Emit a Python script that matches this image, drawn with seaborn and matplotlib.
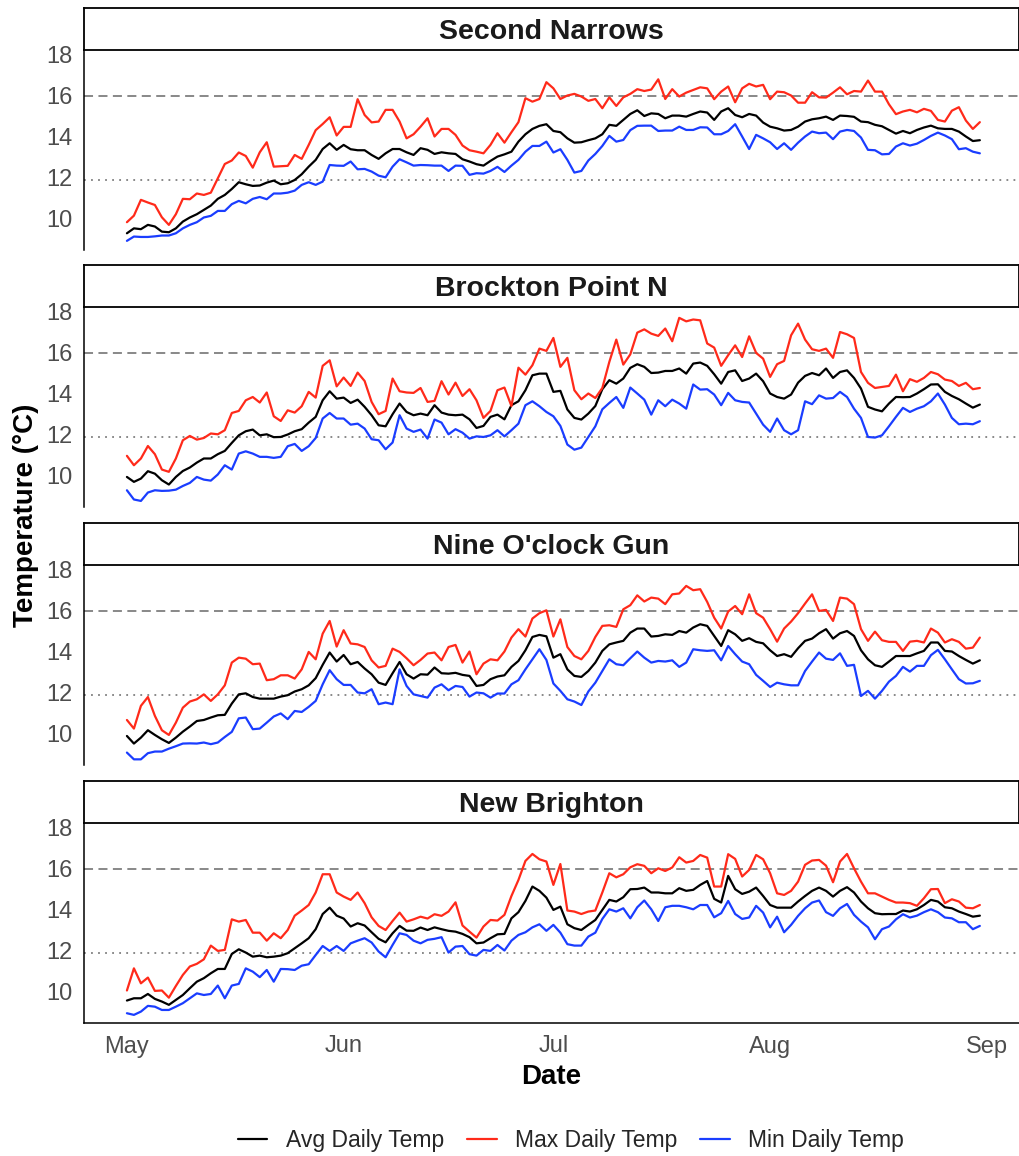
import numpy as np
import pandas as pd
import matplotlib
matplotlib.use("Agg")
import matplotlib.pyplot as plt
from matplotlib.lines import Line2D
import seaborn as sns

# ---------------- data ----------------
start_date = "2023-05-01"
stations = ["Second Narrows", "Brockton Point N", "Nine O'clock Gun", "New Brighton"]
series_names = ["Avg Daily Temp", "Max Daily Temp", "Min Daily Temp"]
month_ticks = ["2023-05-01", "2023-06-01", "2023-07-01", "2023-08-01", "2023-09-01"]
month_labels = ["May", "Jun", "Jul", "Aug", "Sep"]
ref_dashed = 16.0
ref_dotted = 11.9

sn_avg = [9.30, 9.54, 9.50, 9.71, 9.63, 9.38, 9.35, 9.54, 9.87, 10.07, 10.23, 10.44, 10.65, 10.98, 11.17, 11.46, 11.79, 11.69, 11.61, 11.63, 11.77, 11.87, 11.69, 11.74, 11.90, 12.18, 12.55, 12.88, 13.41, 13.69, 13.37, 13.61, 13.40, 13.35, 13.35, 13.12, 12.93, 13.20, 13.41, 13.41, 13.25,
          13.12, 13.45, 13.37, 13.17, 13.25, 13.20, 13.17, 12.91, 12.80, 12.67, 12.60, 12.83, 13.04, 13.15, 13.28, 13.77, 14.13, 14.39, 14.54, 14.62, 14.29, 14.23, 13.93, 13.72, 13.74, 13.84, 13.93, 14.13, 14.59, 14.54, 14.83, 15.12, 15.30, 15.02, 15.15, 15.12, 14.91, 15.04, 15.04,
          14.99, 15.12, 15.24, 15.19, 14.83, 15.24, 15.40, 15.07, 14.96, 15.12, 15.04, 14.70, 14.50, 14.42, 14.31, 14.34, 14.50, 14.75, 14.86, 14.91, 14.99, 14.83, 15.04, 15.02, 14.98, 14.75, 14.72, 14.59, 14.52, 14.34, 14.16, 14.29, 14.18, 14.34, 14.46, 14.55, 14.42, 14.39, 14.39, 14.26, 14.02, 13.80, 13.84]
sn_max = [9.84, 10.16, 10.93, 10.80, 10.68, 10.08, 9.71, 10.23, 10.98, 10.96, 11.24, 11.17, 11.28, 11.98, 12.68, 12.85, 13.24, 13.07, 12.50, 13.25, 13.74, 12.55, 12.57, 12.59, 13.12, 12.93, 13.61, 14.33, 14.63, 14.96, 14.07, 14.49, 14.49, 15.84, 15.07, 14.71, 14.75, 15.32, 15.32, 14.75, 13.93,
          14.13, 14.50, 14.91, 14.02, 14.39, 14.39, 14.10, 13.58, 13.35, 13.28, 13.20, 13.61, 14.18, 13.72, 14.23, 14.72, 15.89, 15.72, 15.85, 16.67, 16.37, 15.85, 16.02, 16.10, 15.97, 15.76, 15.85, 15.40, 15.93, 15.51, 15.93, 16.10, 16.33, 16.24, 16.31, 16.81, 15.85, 16.33, 15.97,
          16.16, 16.29, 16.42, 16.37, 15.84, 16.21, 16.46, 15.69, 16.37, 16.59, 16.46, 16.54, 15.84, 16.21, 16.18, 16.02, 15.67, 15.67, 16.18, 15.93, 15.92, 16.16, 16.42, 16.08, 16.24, 16.21, 16.75, 16.21, 16.21, 15.59, 15.11, 15.24, 15.32, 15.20, 15.37, 15.27, 14.83, 14.75, 15.28, 15.45, 14.80, 14.39, 14.72]
sn_min = [8.93, 9.14, 9.12, 9.12, 9.15, 9.19, 9.19, 9.30, 9.54, 9.71, 9.84, 10.07, 10.15, 10.39, 10.39, 10.72, 10.88, 10.76, 10.98, 11.07, 10.96, 11.24, 11.24, 11.28, 11.38, 11.66, 11.79, 11.66, 11.82, 12.63, 12.60, 12.59, 12.80, 12.42, 12.44, 12.31, 12.11, 12.03, 12.55, 12.91, 12.76,
          12.60, 12.63, 12.62, 12.60, 12.60, 12.34, 12.60, 12.59, 12.15, 12.23, 12.21, 12.34, 12.54, 12.29, 12.60, 12.88, 13.28, 13.56, 13.56, 13.77, 13.24, 13.40, 12.88, 12.26, 12.34, 12.85, 13.17, 13.56, 14.05, 13.77, 13.85, 14.33, 14.54, 14.55, 14.55, 14.29, 14.31, 14.31, 14.50,
          14.34, 14.34, 14.47, 14.46, 14.13, 14.13, 14.29, 14.62, 14.02, 13.41, 14.10, 13.93, 13.74, 13.41, 13.69, 13.37, 13.72, 14.02, 14.26, 14.18, 14.21, 13.89, 14.26, 14.34, 14.29, 13.97, 13.37, 13.35, 13.15, 13.17, 13.53, 13.69, 13.58, 13.67, 13.85, 14.05, 14.21, 14.07, 13.89, 13.40, 13.45, 13.28, 13.20]

bp_avg = [9.95, 9.71, 9.87, 10.23, 10.11, 9.79, 9.58, 9.95, 10.24, 10.41, 10.65, 10.85, 10.85, 11.06, 11.22, 11.61, 11.98, 12.18, 12.26, 11.98, 12.03, 11.89, 11.90, 12.02, 12.18, 12.28, 12.60, 12.88, 13.69, 14.13, 13.77, 13.82, 13.56, 13.72, 13.37, 12.96, 12.47, 12.42, 13.01, 13.53, 13.12,
          12.96, 13.04, 12.96, 13.45, 13.09, 12.99, 12.96, 12.99, 12.76, 12.34, 12.44, 12.88, 12.99, 12.76, 13.45, 13.64, 14.18, 14.91, 14.99, 14.99, 14.10, 14.15, 13.24, 12.83, 12.75, 13.04, 13.41, 14.23, 14.67, 14.50, 14.75, 15.27, 15.45, 15.32, 15.02, 15.04, 15.12, 15.12, 15.24,
          14.99, 15.48, 15.53, 15.37, 14.96, 14.50, 15.07, 15.15, 14.63, 14.75, 14.99, 14.62, 14.02, 13.85, 13.77, 13.97, 14.55, 14.88, 15.02, 14.91, 15.24, 14.78, 15.07, 15.15, 14.78, 14.26, 13.37, 13.24, 13.15, 13.53, 13.85, 13.84, 13.85, 14.02, 14.23, 14.46, 14.47, 14.10, 13.90, 13.74, 13.53, 13.33, 13.48]
bp_max = [10.98, 10.52, 10.85, 11.46, 11.06, 10.31, 10.20, 10.85, 11.74, 11.95, 11.77, 11.85, 12.07, 12.03, 12.23, 13.07, 13.17, 13.69, 13.85, 13.58, 14.07, 12.91, 12.68, 13.20, 13.09, 13.40, 14.10, 13.82, 15.37, 15.64, 14.37, 14.80, 14.39, 15.04, 14.63, 13.61, 13.01, 13.17, 14.75, 14.13, 14.07,
          14.05, 14.29, 13.61, 13.66, 14.62, 13.97, 14.55, 13.90, 14.23, 13.69, 12.83, 13.17, 14.18, 14.31, 13.41, 15.28, 14.94, 15.40, 16.21, 16.10, 16.73, 15.32, 15.76, 14.18, 13.74, 14.02, 13.80, 14.29, 15.56, 16.65, 15.43, 15.93, 16.99, 17.15, 16.94, 16.83, 17.19, 16.57, 17.71,
          17.54, 17.63, 17.59, 16.46, 16.26, 15.37, 15.89, 16.37, 15.80, 16.81, 16.00, 15.72, 14.83, 15.45, 15.61, 16.86, 17.43, 16.65, 16.18, 16.10, 16.21, 15.76, 17.02, 16.91, 16.73, 15.07, 14.54, 14.29, 14.34, 14.39, 14.94, 14.13, 14.72, 14.59, 14.78, 15.07, 14.96, 14.70, 14.63, 14.39, 14.54, 14.23, 14.29]
bp_min = [9.30, 8.85, 8.78, 9.19, 9.30, 9.27, 9.28, 9.33, 9.51, 9.66, 9.95, 9.82, 9.77, 10.07, 10.52, 10.31, 11.09, 11.20, 11.09, 10.93, 10.93, 10.88, 10.93, 11.45, 11.56, 11.22, 11.45, 11.85, 12.80, 13.07, 12.80, 12.80, 12.50, 12.55, 12.31, 11.79, 11.74, 11.30, 11.63, 12.96, 12.31,
          12.15, 12.26, 11.82, 12.75, 12.60, 12.03, 12.28, 12.11, 11.82, 11.93, 11.90, 11.98, 12.23, 11.93, 12.23, 12.55, 13.45, 13.64, 13.40, 13.12, 12.91, 12.44, 11.53, 11.28, 11.38, 11.90, 12.42, 13.25, 13.56, 13.85, 13.32, 14.31, 14.02, 13.72, 12.99, 13.69, 13.40, 13.72, 13.53,
          13.28, 14.46, 14.21, 14.23, 13.97, 13.45, 14.05, 13.69, 13.61, 13.58, 13.04, 12.50, 12.15, 12.80, 12.23, 12.03, 12.23, 13.64, 13.50, 13.93, 13.77, 13.80, 14.10, 13.85, 13.28, 12.83, 11.90, 11.87, 11.98, 12.42, 12.88, 13.32, 13.12, 13.28, 13.40, 13.64, 14.02, 13.48, 12.83, 12.52, 12.55, 12.52, 12.67]

ng_avg = [9.90, 9.53, 9.82, 10.18, 9.95, 9.74, 9.56, 9.82, 10.11, 10.36, 10.63, 10.68, 10.80, 10.91, 10.93, 11.48, 11.93, 11.98, 11.80, 11.72, 11.72, 11.72, 11.82, 11.89, 12.07, 12.18, 12.37, 12.72, 13.37, 13.97, 13.53, 13.85, 13.40, 13.51, 13.19, 12.91, 12.50, 12.39, 12.96, 13.51, 12.91,
          12.70, 12.91, 12.89, 13.24, 12.96, 12.94, 12.98, 12.88, 12.83, 12.34, 12.39, 12.67, 12.80, 12.86, 13.27, 13.56, 14.08, 14.73, 14.83, 14.76, 13.72, 13.89, 13.15, 12.83, 12.78, 13.07, 13.48, 14.05, 14.37, 14.46, 14.54, 14.94, 15.14, 15.14, 14.75, 14.78, 14.86, 14.83, 15.02,
          14.94, 15.19, 15.35, 15.27, 14.78, 14.29, 15.06, 14.86, 14.54, 14.67, 14.49, 14.42, 14.08, 13.80, 13.89, 13.76, 14.18, 14.54, 14.65, 14.91, 15.11, 14.65, 14.91, 15.02, 14.78, 14.08, 13.64, 13.35, 13.27, 13.53, 13.80, 13.80, 13.80, 13.93, 14.05, 14.46, 14.46, 14.05, 14.02, 13.80, 13.61, 13.43, 13.59]
ng_max = [10.68, 10.26, 11.37, 11.80, 10.88, 10.18, 9.95, 10.55, 11.28, 11.58, 11.69, 11.93, 11.61, 11.93, 12.37, 13.48, 13.72, 13.67, 13.40, 13.43, 12.62, 12.67, 12.86, 12.86, 12.70, 13.15, 14.00, 13.64, 14.89, 15.51, 14.26, 15.06, 14.41, 14.37, 14.24, 13.59, 13.24, 13.32, 14.16, 14.00, 13.69,
          13.35, 13.61, 13.92, 13.97, 13.59, 14.24, 14.34, 13.48, 14.02, 12.91, 13.43, 13.64, 13.59, 14.02, 14.70, 15.11, 14.75, 15.63, 15.89, 16.03, 14.75, 15.59, 14.24, 13.80, 13.64, 14.05, 14.73, 15.27, 15.30, 15.22, 16.08, 16.28, 16.76, 16.46, 16.65, 16.60, 16.33, 16.81, 16.85,
          17.22, 17.01, 17.06, 16.44, 15.67, 15.14, 15.97, 16.24, 15.84, 16.81, 15.89, 15.67, 15.11, 14.50, 15.14, 15.48, 15.89, 16.36, 16.81, 16.00, 16.05, 15.51, 16.65, 16.60, 16.33, 15.11, 14.54, 14.99, 14.57, 14.49, 14.49, 14.05, 14.50, 14.54, 14.46, 15.14, 14.94, 14.46, 14.62, 14.49, 14.16, 14.21, 14.70]
ng_min = [9.09, 8.76, 8.76, 9.06, 9.14, 9.14, 9.28, 9.40, 9.53, 9.54, 9.53, 9.58, 9.50, 9.58, 9.85, 10.10, 10.76, 10.80, 10.23, 10.26, 10.55, 10.85, 11.00, 10.72, 11.12, 11.07, 11.32, 11.61, 12.42, 13.11, 12.67, 12.39, 12.39, 12.02, 11.98, 12.18, 11.45, 11.53, 11.45, 13.15, 12.34,
          11.93, 11.85, 11.77, 12.26, 12.42, 12.13, 12.34, 12.29, 11.82, 12.02, 11.98, 11.77, 11.97, 11.97, 12.42, 12.62, 13.15, 13.64, 14.13, 13.61, 12.46, 12.10, 11.69, 11.58, 11.41, 12.07, 12.50, 13.07, 13.64, 13.40, 13.35, 13.69, 14.02, 13.72, 13.48, 13.56, 13.53, 13.59, 13.27,
          13.48, 14.13, 14.08, 14.05, 14.08, 13.59, 14.29, 13.89, 13.53, 13.40, 12.88, 12.59, 12.29, 12.50, 12.42, 12.37, 12.37, 13.07, 13.53, 13.97, 13.67, 13.61, 13.93, 13.32, 13.37, 11.85, 12.10, 11.72, 12.10, 12.55, 12.83, 13.27, 13.04, 13.32, 13.32, 13.84, 14.10, 13.64, 13.15, 12.67, 12.46, 12.47, 12.59]

nb_avg = [9.58, 9.69, 9.69, 9.90, 9.66, 9.53, 9.37, 9.61, 9.85, 10.18, 10.50, 10.67, 10.91, 11.12, 11.12, 11.85, 12.08, 11.92, 11.72, 11.77, 11.69, 11.72, 11.77, 11.89, 12.13, 12.37, 12.62, 13.06, 13.80, 14.11, 13.72, 13.58, 13.19, 13.35, 13.24, 12.91, 12.59, 12.42, 12.86, 13.22, 12.99,
          12.98, 13.14, 13.02, 13.15, 13.06, 12.98, 12.94, 12.83, 12.67, 12.37, 12.41, 12.62, 12.81, 12.83, 13.59, 13.89, 14.44, 15.14, 14.93, 14.60, 14.00, 14.16, 13.30, 13.11, 13.02, 13.27, 13.51, 14.00, 14.49, 14.41, 14.62, 15.01, 15.02, 15.09, 14.85, 14.85, 14.81, 14.81, 15.06,
          14.93, 14.98, 15.22, 15.41, 14.54, 14.36, 15.66, 15.01, 14.78, 14.89, 15.09, 14.68, 14.24, 14.11, 14.11, 14.11, 14.41, 14.68, 14.93, 15.09, 14.93, 14.65, 14.93, 15.11, 14.85, 14.41, 14.08, 13.84, 13.79, 13.80, 13.80, 13.97, 13.92, 14.03, 14.24, 14.49, 14.41, 14.13, 14.08, 13.92, 13.80, 13.67, 13.72]
nb_max = [10.07, 11.15, 10.42, 10.70, 10.05, 10.07, 9.72, 10.29, 10.83, 11.24, 11.37, 11.59, 12.26, 12.00, 12.05, 13.54, 13.43, 13.51, 12.89, 12.89, 12.50, 12.86, 12.62, 13.02, 13.72, 13.97, 14.24, 14.85, 15.74, 15.74, 14.85, 14.65, 14.49, 14.85, 14.33, 13.64, 13.22, 13.02, 13.46, 13.87, 13.43,
          13.54, 13.67, 13.58, 13.79, 13.71, 13.92, 14.37, 13.24, 12.94, 12.65, 13.19, 13.51, 13.48, 13.76, 14.68, 15.46, 16.39, 16.73, 16.47, 16.36, 15.22, 16.24, 13.97, 13.92, 13.80, 13.92, 13.97, 14.85, 15.79, 15.59, 15.74, 16.08, 16.23, 16.15, 15.79, 16.03, 15.90, 16.07, 16.57,
          16.31, 16.39, 16.68, 16.55, 15.14, 15.14, 16.72, 16.49, 15.63, 15.95, 16.68, 16.47, 15.79, 14.81, 14.73, 14.93, 15.38, 16.20, 16.41, 16.44, 16.16, 15.35, 16.36, 16.73, 16.03, 15.38, 14.81, 14.81, 14.65, 14.49, 14.36, 14.36, 14.33, 14.20, 14.57, 15.01, 15.02, 14.33, 14.52, 14.41, 14.11, 14.08, 14.24]
nb_min = [8.96, 8.88, 9.04, 9.32, 9.28, 9.12, 9.12, 9.28, 9.45, 9.69, 9.93, 9.85, 9.90, 10.31, 9.69, 10.31, 10.39, 11.15, 10.99, 10.72, 11.07, 10.50, 11.12, 11.11, 11.07, 11.28, 11.35, 11.80, 12.24, 12.00, 12.24, 12.00, 12.37, 12.50, 12.62, 12.41, 11.97, 11.69, 12.29, 12.86, 12.78,
          12.50, 12.37, 12.54, 12.59, 12.67, 11.92, 12.21, 12.24, 11.84, 11.77, 12.05, 12.00, 12.29, 12.02, 12.50, 12.78, 12.91, 13.15, 13.30, 12.98, 13.27, 12.89, 12.33, 12.26, 12.26, 12.70, 12.89, 13.56, 14.03, 13.92, 14.08, 13.59, 14.13, 14.46, 14.03, 13.46, 14.13, 14.20, 14.20,
          14.13, 14.03, 14.24, 14.24, 13.64, 13.84, 14.44, 13.80, 13.56, 13.63, 14.20, 13.87, 13.15, 13.67, 12.91, 13.27, 13.71, 14.08, 14.36, 14.46, 13.89, 13.71, 14.08, 14.29, 13.76, 13.43, 13.15, 12.57, 13.06, 13.19, 13.54, 13.79, 13.63, 13.72, 13.89, 14.03, 13.89, 13.63, 13.59, 13.40, 13.40, 13.06, 13.22]

station_data = {
    "Second Narrows": (sn_avg, sn_max, sn_min),
    "Brockton Point N": (bp_avg, bp_max, bp_min),
    "Nine O'clock Gun": (ng_avg, ng_max, ng_min),
    "New Brighton": (nb_avg, nb_max, nb_min),
}

# ---------------- style ----------------
sns.set_style("white")
plt.rcParams["font.family"] = ["Liberation Sans", "DejaVu Sans"]
colors = {"Avg Daily Temp": "#000000", "Max Daily Temp": "#FF2A1A", "Min Daily Temp": "#1A3DFF"}
tick_gray = "#4D4D4D"

W, H = 1020, 1156
fig = plt.figure(figsize=(W / 100, H / 100), dpi=100)

def frac_rect(left, top, right, bottom):
    return [left / W, 1 - bottom / H, (right - left) / W, (bottom - top) / H]

left_px, right_px = 84, 1019
panel_tops = [50, 307, 565, 823]
panel_h = 200
strip_h = 42

d0 = pd.Timestamp(start_date)
xlim = (d0 - pd.Timedelta(days=6.14), d0 + pd.Timedelta(days=127.6))
ylim = (18.24 - panel_h / 20.5, 18.24)

rows = []
for st in stations:
    for name, vals in zip(series_names, station_data[st]):
        dates = pd.date_range(start_date, periods=len(vals), freq="D")
        rows.append(pd.DataFrame({"station": st, "series": name, "date": dates, "temp": vals}))
df = pd.concat(rows, ignore_index=True)

for i, st in enumerate(stations):
    top = panel_tops[i]
    ax = fig.add_axes(frac_rect(left_px, top, right_px, top + panel_h))
    sub = df[df["station"] == st]
    ax.axhline(ref_dashed, color="#7F7F7F", lw=1.3, ls=(0, (5, 3)), zorder=1)
    ax.axhline(ref_dotted, color="#7F7F7F", lw=1.3, ls=(0, (1, 2.9)), zorder=1)
    sns.lineplot(data=sub, x="date", y="temp", hue="series", hue_order=series_names,
                 palette=colors, linewidth=1.6, ax=ax, legend=False, zorder=3)
    ax.set_xlim(*xlim)
    ax.set_ylim(*ylim)
    ax.set_yticks([10, 12, 14, 16, 18])
    ax.set_yticklabels(["10", "12", "14", "16", "18"])
    ax.tick_params(axis="y", colors=tick_gray, labelsize=17, length=4, width=1.0, pad=4)
    ax.set_xlabel("")
    ax.set_ylabel("")
    for s in ["top", "right"]:
        ax.spines[s].set_visible(False)
    ax.spines["left"].set_color("black")
    ax.spines["left"].set_linewidth(1.1)
    ticks = pd.to_datetime(month_ticks)
    ax.set_xticks(ticks)
    if i < len(stations) - 1:
        ax.spines["bottom"].set_visible(False)
        ax.tick_params(axis="x", bottom=False, labelbottom=False)
    else:
        ax.spines["bottom"].set_color("black")
        ax.spines["bottom"].set_linewidth(1.1)
        ax.set_xticklabels(month_labels)
        ax.tick_params(axis="x", colors=tick_gray, labelsize=17, length=5, width=1.0, pad=4)
    ax.patch.set_alpha(0)

    # strip
    sax = fig.add_axes(frac_rect(left_px, top - strip_h, right_px, top))
    sax.set_xticks([])
    sax.set_yticks([])
    for s in sax.spines.values():
        s.set_visible(True)
        s.set_color("black")
        s.set_linewidth(1.3)
    sax.set_facecolor("white")
    sax.text(0.5, 0.42, st, ha="center", va="center", fontsize=20.5, fontweight="bold",
             color="#1A1A1A", transform=sax.transAxes)

fig.text(26 / W, 1 - 515 / H, "Temperature (°C)", rotation=90, ha="center", va="center",
         fontsize=20, fontweight="bold", color="black")
fig.text(551 / W, 1 - 1077 / H, "Date", ha="center", va="center",
         fontsize=20, fontweight="bold", color="black")

handles = [Line2D([0], [0], color=colors[n], lw=1.6) for n in series_names]
fig.legend(handles, series_names, loc="center", bbox_to_anchor=(571 / W, 1 - 1141 / H),
           ncol=3, frameon=False, fontsize=16.5, handlelength=1.3, columnspacing=1.0,
           handletextpad=0.8)

fig.savefig("out.png", dpi=100, facecolor="white")
